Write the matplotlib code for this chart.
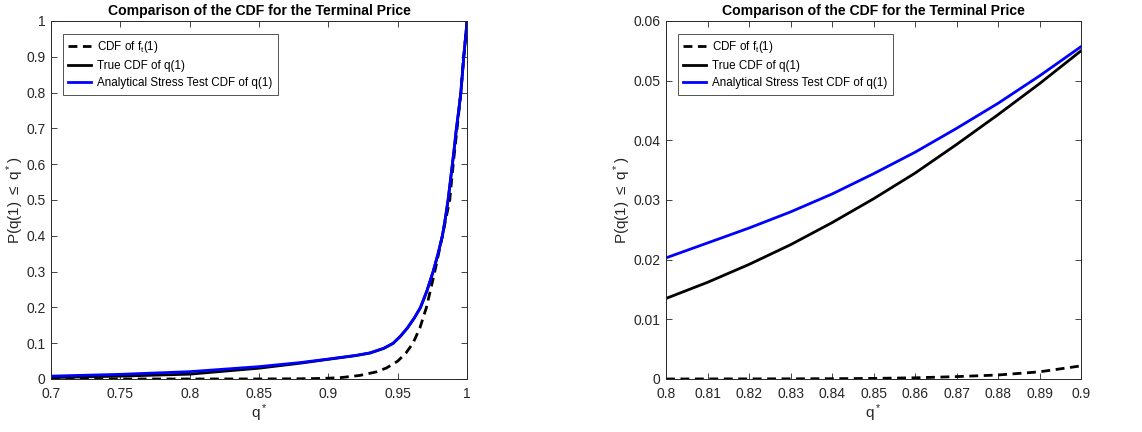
import matplotlib
matplotlib.use("Agg")
import matplotlib.pyplot as plt

plt.rcParams["font.family"] = ["Liberation Sans", "DejaVu Sans"]
plt.rcParams["mathtext.fontset"] = "custom"
plt.rcParams["mathtext.rm"] = "Liberation Sans"
plt.rcParams["mathtext.it"] = "Liberation Sans"

# left panel: full range
left_x = [0.70, 0.75, 0.80, 0.85, 0.88, 0.90, 0.92, 0.93, 0.94, 0.9467, 0.952, 0.957, 0.962,
          0.9664, 0.971, 0.9755, 0.979, 0.9822, 0.984, 0.9863, 0.9894, 0.991, 0.9923, 0.994,
          0.9955, 0.9976, 0.999, 1.0]
left_stress = [0.008, 0.013, 0.0205, 0.0345, 0.046, 0.0557, 0.066, 0.073, 0.086, 0.10, 0.12, 0.143, 0.171,
               0.20, 0.246, 0.30, 0.349, 0.40, 0.441, 0.50, 0.60, 0.653, 0.70, 0.751,
               0.80, 0.90, 0.958, 1.0]
left_true = [0.004, 0.008, 0.0135, 0.0302, 0.0443, 0.055, 0.0655, 0.0725, 0.0855, 0.0995, 0.1195, 0.1425, 0.1705,
             0.1995, 0.2455, 0.2995, 0.3485, 0.3995, 0.4405, 0.4995, 0.5995, 0.6525, 0.6995, 0.7505,
             0.7995, 0.8995, 0.958, 1.0]
left_fx = [0.70, 0.80, 0.85, 0.87, 0.88, 0.89, 0.90, 0.91, 0.9227, 0.9347, 0.942, 0.95, 0.956, 0.961,
           0.966, 0.9707, 0.9767, 0.9822, 0.9875, 0.990, 0.9928, 0.9955, 0.9976, 1.0]
left_f = [0.0, 0.0, 0.0001, 0.0004, 0.0007, 0.0012, 0.0022, 0.0043, 0.01, 0.02, 0.031, 0.05, 0.073, 0.10,
          0.143, 0.20, 0.30, 0.40, 0.50, 0.60, 0.70, 0.80, 0.90, 1.0]

# right panel: zoom on 0.8-0.9
right_x = [0.80, 0.81, 0.82, 0.83, 0.84, 0.85, 0.86, 0.87, 0.88, 0.89, 0.90]
right_stress = [0.0203, 0.0228, 0.0253, 0.0280, 0.0310, 0.0344, 0.0380, 0.0420, 0.0462, 0.0508, 0.0557]
right_true = [0.0135, 0.0162, 0.0192, 0.0225, 0.0262, 0.0302, 0.0345, 0.0393, 0.0443, 0.0495, 0.0550]
right_f = [0.0, 0.00001, 0.00002, 0.00003, 0.00005, 0.0001, 0.0002, 0.0004, 0.00067, 0.0012, 0.0022]

labels = [r"CDF of f$_{\rm t}$(1)", "True CDF of q(1)", "Analytical Stress Test CDF of q(1)"]
edge = "#262626"

fig = plt.figure(figsize=(11.42, 4.32), dpi=100)
ax1 = fig.add_axes([0.0447, 0.1227, 0.3643, 0.8287])
ax2 = fig.add_axes([0.5832, 0.1227, 0.3634, 0.8287])


def fmt(v):
    return f"{v:.2f}".rstrip("0").rstrip(".")


def style(ax, xlim, ylim, xticks, yticks):
    ax.set_xlim(*xlim)
    ax.set_ylim(*ylim)
    ax.set_xticks(xticks)
    ax.set_yticks(yticks)
    ax.set_xticklabels([fmt(v) for v in xticks])
    ax.set_yticklabels([fmt(v) for v in yticks])
    ax.tick_params(direction="in", top=True, right=True, labelsize=10, colors=edge,
                   length=4, width=0.6)
    ax.tick_params(axis="x", pad=6)
    ax.tick_params(axis="y", pad=4)
    for s in ax.spines.values():
        s.set_color(edge)
        s.set_linewidth(0.7)
    ax.set_title("Comparison of the CDF for the Terminal Price", fontsize=10.1,
                 fontweight="bold", pad=4)
    ax.set_xlabel(r"q$^*$", fontsize=11, color=edge, labelpad=1)
    ax.set_ylabel(r"P(q(1) $\leq$ q$^*$)", fontsize=11, color=edge, labelpad=0)


ax1.plot(left_fx, left_f, "k--", lw=2, dashes=(3.2, 2), label=labels[0])
ax1.plot(left_x, left_true, color="black", lw=2, label=labels[1])
ax1.plot(left_x, left_stress, color="#0000ff", lw=2, label=labels[2])
style(ax1, (0.7, 1.0), (0, 1),
      [0.7, 0.75, 0.8, 0.85, 0.9, 0.95, 1.0],
      [i / 10 for i in range(11)])

ax2.plot(right_x, right_f, "k--", lw=2, dashes=(3.2, 2), label=labels[0])
ax2.plot(right_x, right_true, color="black", lw=2, label=labels[1])
ax2.plot(right_x, right_stress, color="#0000ff", lw=2, label=labels[2])
style(ax2, (0.8, 0.9), (0, 0.06),
      [0.8 + i / 100 for i in range(11)],
      [i / 100 for i in range(7)])

for ax in (ax1, ax2):
    leg = ax.legend(loc="upper left", bbox_to_anchor=(0.028, 0.965), fontsize=8.4,
                    frameon=True, fancybox=False, borderpad=0.45, labelspacing=0.45,
                    handlelength=2.0, handletextpad=0.5, borderaxespad=0)
    leg.get_frame().set_edgecolor(edge)
    leg.get_frame().set_linewidth(0.7)

fig.savefig("out.png", dpi=100)
